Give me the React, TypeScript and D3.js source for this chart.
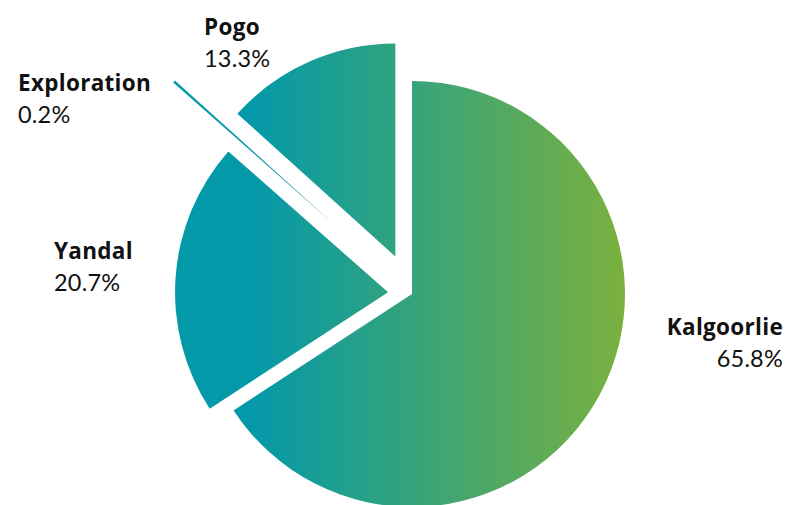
import React from "react";
import * as d3 from "d3";

const categories = ["Kalgoorlie", "Yandal", "Exploration", "Pogo"];
const values = [65.8, 20.7, 0.2, 13.3];
const labels = ["65.8%", "20.7%", "0.2%", "13.3%"];
const explode = [0, 24, 106, 41];

const W = 789;
const H = 505;
const cx = 412;
const cy = 294;
const R = 213;
const gradX1 = 255;
const gradX2 = 625;

const labelPos: { x: number; y: number; anchor: "start" | "end" }[] = [
  { x: 783, y: 335, anchor: "end" },
  { x: 54, y: 259, anchor: "start" },
  { x: 18, y: 91, anchor: "start" },
  { x: 204, y: 35, anchor: "start" },
];

export default function App() {
  const pie = d3.pie<number>().sort(null).value((d) => d);
  const arcs = pie(values);
  const arc = d3.arc<d3.PieArcDatum<number>>().innerRadius(0).outerRadius(R);

  const slices = arcs.map((a, i) => {
    const mid = (a.startAngle + a.endAngle) / 2;
    const ox = cx + Math.sin(mid) * explode[i];
    const oy = cy - Math.cos(mid) * explode[i];
    return { a, ox, oy, i };
  });

  return (
    <svg
      width={W}
      height={H}
      style={{ position: "absolute", left: 0, top: 0, background: "#fff" }}
    >
      <defs>
        {slices.map((s) => (
          <linearGradient
            key={"g" + s.i}
            id={"grad" + s.i}
            gradientUnits="userSpaceOnUse"
            x1={gradX1 - s.ox}
            y1={0}
            x2={gradX2 - s.ox}
            y2={0}
          >
            <stop offset="0" stopColor="#0499a8" />
            <stop offset="1" stopColor="#7ab13e" />
          </linearGradient>
        ))}
      </defs>
      {slices.map((s) => (
        <g key={categories[s.i]} transform={`translate(${s.ox},${s.oy})`}>
          <path d={arc(s.a) || ""} fill={`url(#grad${s.i})`} />
        </g>
      ))}
      {categories.map((c, i) => (
        <g key={"l" + c}>
          <text
            x={labelPos[i].x}
            y={labelPos[i].y}
            textAnchor={labelPos[i].anchor}
            fontFamily="'Open Sans', sans-serif"
            fontSize={22.5}
            fontWeight={700}
            letterSpacing={0.3}
            fill="#111"
          >
            {c}
          </text>
          <text
            x={labelPos[i].x}
            y={labelPos[i].y + 32}
            textAnchor={labelPos[i].anchor}
            fontFamily="Lato, sans-serif"
            fontSize={23.5}
            fontWeight={400}
            letterSpacing={0.2}
            fill="#111"
          >
            {labels[i]}
          </text>
        </g>
      ))}
    </svg>
  );
}
